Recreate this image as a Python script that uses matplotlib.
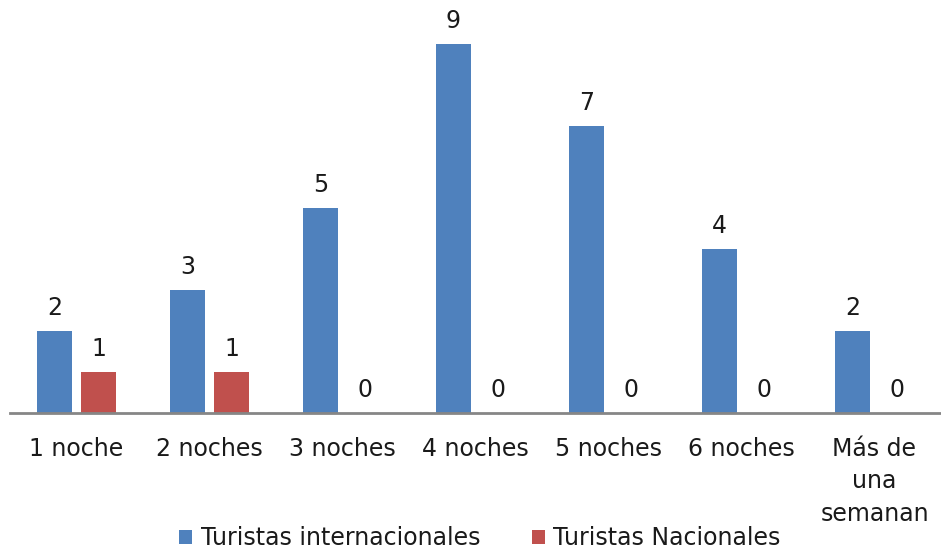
import matplotlib
matplotlib.use("Agg")
import matplotlib.pyplot as plt
import numpy as np

categories = ["1 noche", "2 noches", "3 noches", "4 noches", "5 noches", "6 noches", "Más de\nuna\nsemanan"]
internacionales = [2, 3, 5, 9, 7, 4, 2]
nacionales = [1, 1, 0, 0, 0, 0, 0]
series_names = ["Turistas internacionales", "Turistas Nacionales"]

blue = "#4F81BD"
red = "#C0504D"

plt.rcParams['font.family'] = ['DejaVu Sans']

fig = plt.figure(figsize=(9.41, 5.52), dpi=100)
ax = fig.add_axes([10/941, 139/552, 931/941, 410/552])

x = np.arange(len(categories))
w = 0.265
off = 0.167
b1 = ax.bar(x - off, internacionales, w, color=blue, label=series_names[0])
b2 = ax.bar(x + off, nacionales, w, color=red, label=series_names[1])

fs = 17
for rects, vals in ((b1, internacionales), (b2, nacionales)):
    for r, v in zip(rects, vals):
        ax.annotate(str(v), (r.get_x() + r.get_width()/2, v), xytext=(0, 8),
                    textcoords="offset points", ha="center", va="bottom",
                    fontsize=fs, color="#1a1a1a")

ax.set_xlim(-0.5, len(categories) - 0.5)
ax.set_ylim(0, 10)
ax.set_xticks(x)
ax.set_xticklabels(categories, fontsize=fs, color="#1a1a1a", linespacing=1.45)
ax.tick_params(axis="x", length=0, pad=17)
ax.set_yticks([])
for s in ("top", "right", "left"):
    ax.spines[s].set_visible(False)
ax.spines["bottom"].set_color("#868686")
ax.spines["bottom"].set_linewidth(2)

fig.legend(handles=[b1, b2], labels=series_names, loc="center", bbox_to_anchor=(480/941, 1 - 538/552),
           ncol=2, frameon=False, fontsize=fs, handlelength=0.55, handleheight=0.55,
           handletextpad=0.35, columnspacing=2.2, labelcolor="#1a1a1a")

fig.savefig("out.png", dpi=100)
